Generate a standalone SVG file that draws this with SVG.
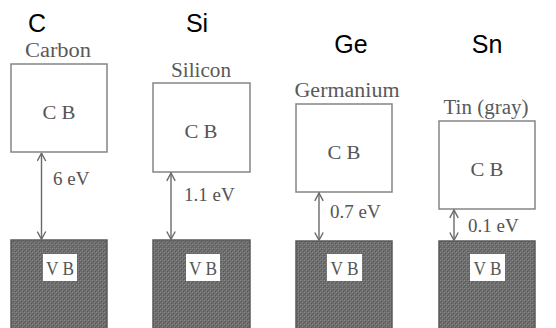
<svg xmlns="http://www.w3.org/2000/svg" width="556" height="328" viewBox="0 0 556 328">
<style>
.el{font-family:"Liberation Sans","Arial",sans-serif;font-size:25px;fill:#000;text-anchor:middle}
.nm{font-family:"Liberation Serif","Times New Roman",serif;font-size:20px;fill:#595959;text-anchor:middle}
.cb{fill:#fff;stroke:#858585;stroke-width:1.5}
.vb{fill:url(#tex);stroke:#5a5a5a;stroke-width:1.5}
.bt{font-family:"Liberation Serif","Times New Roman",serif;font-size:19px;fill:#555;text-anchor:middle}
.lab{fill:#fff}
.ev{font-family:"Liberation Serif","Times New Roman",serif;font-size:19px;fill:#555}
.gap{stroke:#6a6a6a;stroke-width:1.4;fill:none;marker-start:url(#ah);marker-end:url(#ah)}
</style>
<defs>
<pattern id="tex" width="4" height="4" patternUnits="userSpaceOnUse">
<rect width="4" height="4" fill="#6e6e6e"/>
<rect x="0" y="0" width="1" height="1" fill="#8a8a8a"/>
<rect x="2" y="2" width="1" height="1" fill="#8a8a8a"/>
<rect x="1" y="1" width="1" height="1" fill="#585858"/>
<rect x="3" y="3" width="1" height="1" fill="#585858"/>
<rect x="2" y="0" width="1" height="1" fill="#7c7c7c"/>
<rect x="0" y="2" width="1" height="1" fill="#626262"/>
</pattern>
<marker id="ah" viewBox="0 0 10 10" refX="9.5" refY="5" markerWidth="10" markerHeight="10" markerUnits="userSpaceOnUse" orient="auto-start-reverse">
<path d="M1.5,0.8 L9.3,5 L1.5,9.2" fill="none" stroke="#6a6a6a" stroke-width="1.4"/>
</marker>
</defs>

<g id="carbon">
<text class="el" x="37" y="32">C</text>
<text class="nm" x="58" y="57" textLength="66" lengthAdjust="spacingAndGlyphs">Carbon</text>
<g id="carbon-cb"><rect class="cb" x="11" y="64" width="96" height="88"/><text class="bt" x="59" y="119" textLength="33" lengthAdjust="spacingAndGlyphs">C B</text></g>
<g id="carbon-vb"><rect class="vb" x="11" y="240" width="96" height="92"/><rect class="lab" x="43" y="254" width="34" height="27"/><text class="bt" x="60" y="275" textLength="28" lengthAdjust="spacingAndGlyphs">V B</text></g>
</g>

<g id="silicon">
<text class="el" x="197" y="32">Si</text>
<text class="nm" x="201" y="77" textLength="60" lengthAdjust="spacingAndGlyphs">Silicon</text>
<g id="silicon-cb"><rect class="cb" x="153" y="83" width="97" height="89"/><text class="bt" x="201" y="138" textLength="33" lengthAdjust="spacingAndGlyphs">C B</text></g>
<g id="silicon-vb"><rect class="vb" x="153" y="240" width="97" height="92"/><rect class="lab" x="186" y="254" width="34" height="27"/><text class="bt" x="203" y="275" textLength="28" lengthAdjust="spacingAndGlyphs">V B</text></g>
</g>

<g id="germanium">
<text class="el" x="351" y="53">Ge</text>
<text class="nm" x="347" y="97" textLength="105" lengthAdjust="spacingAndGlyphs">Germanium</text>
<g id="germanium-cb"><rect class="cb" x="296" y="104" width="96" height="88"/><text class="bt" x="344" y="159" textLength="33" lengthAdjust="spacingAndGlyphs">C B</text></g>
<g id="germanium-vb"><rect class="vb" x="296" y="241" width="96" height="91"/><rect class="lab" x="327" y="254" width="35" height="27"/><text class="bt" x="344.5" y="275" textLength="28" lengthAdjust="spacingAndGlyphs">V B</text></g>
</g>

<g id="tin">
<text class="el" x="487" y="53">Sn</text>
<text class="nm" x="486" y="114" textLength="85" lengthAdjust="spacingAndGlyphs">Tin (gray)</text>
<g id="tin-cb"><rect class="cb" x="439" y="121" width="96" height="88"/><text class="bt" x="487" y="176" textLength="33" lengthAdjust="spacingAndGlyphs">C B</text></g>
<g id="tin-vb"><rect class="vb" x="439" y="241" width="96" height="91"/><rect class="lab" x="470" y="254" width="35" height="27"/><text class="bt" x="487.5" y="275" textLength="28" lengthAdjust="spacingAndGlyphs">V B</text></g>
</g>

<g id="connectors">
<line class="gap" x1="41.5" y1="153" x2="41.5" y2="239.5"/>
<line class="gap" x1="171" y1="172.8" x2="171" y2="239.5"/>
<line class="gap" x1="319" y1="192.8" x2="319" y2="240.5"/>
<line class="gap" x1="454" y1="209.8" x2="454" y2="240.5"/>
<text class="ev" x="53" y="185">6 eV</text>
<text class="ev" x="184" y="201">1.1 eV</text>
<text class="ev" x="330" y="218">0.7 eV</text>
<text class="ev" x="468" y="232">0.1 eV</text>
</g>
</svg>
